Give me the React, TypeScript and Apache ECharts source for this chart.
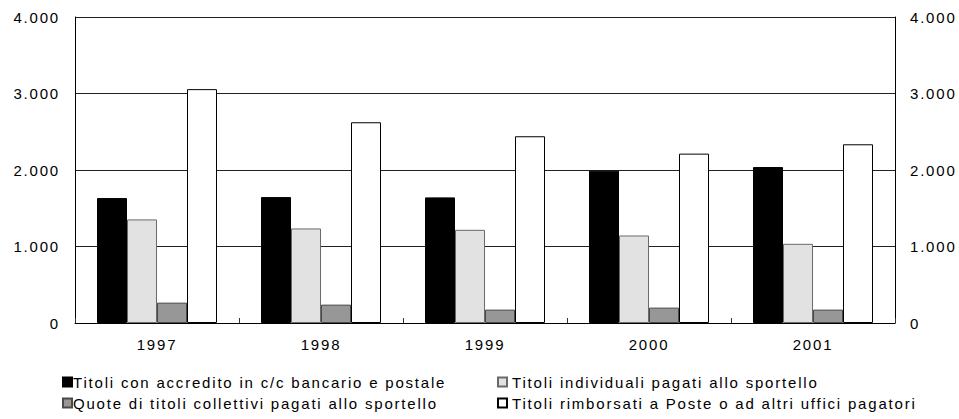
import React, { useEffect, useRef } from "react";
import * as echarts from "echarts";

const years = ["1997", "1998", "1999", "2000", "2001"];
const seriesNames = [
  "Titoli con accredito in c/c bancario e postale",
  "Titoli individuali pagati allo sportello",
  "Quote di titoli collettivi pagati allo sportello",
  "Titoli rimborsati a Poste o ad altri uffici pagatori",
];
const accredito = [1633, 1646, 1642, 1991, 2039];
const individuali = [1354, 1236, 1218, 1144, 1035];
const collettivi = [266, 240, 175, 201, 175];
const rimborsati = [3057, 2624, 2441, 2214, 2336];
const yMin = 0;
const yMax = 4000;
const yInterval = 1000;

const fills = ["#000000", "#e2e2e2", "#979797", "#ffffff"];
const borders = ["#000000", "#6a6a6a", "#4a4a4a", "#000000"];
const FONT = "'Liberation Sans', Arial, sans-serif";

const fmt = (v: number) => String(v).replace(/\B(?=(\d{3})+(?!\d))/g, ".");

export default function App() {
  const ref = useRef<HTMLDivElement>(null);
  useEffect(() => {
    if (!ref.current) return;
    const chart = echarts.init(ref.current, undefined, { renderer: "svg" });
    const values = [accredito, individuali, collettivi, rimborsati];
    const legendPos = [
      { left: 62, top: 374, pad: [0, 0, 0, -4] },
      { left: 497, top: 374, pad: [0, 0, 0, 0] },
      { left: 62, top: 395, pad: [0, 0, 0, -4] },
      { left: 497, top: 395, pad: [0, 0, 0, 0] },
    ];
    const yAxisCommon = {
      type: "value" as const,
      min: yMin,
      max: yMax,
      interval: yInterval,
      axisLine: { show: true, lineStyle: { color: "#000", width: 1 } },
      axisTick: { show: false },
      splitLine: { show: true, lineStyle: { color: "#222", width: 1 } },
      axisLabel: {
        color: "#000",
        fontSize: 15,
        fontFamily: FONT,
        margin: 15,
        formatter: (v: number) => fmt(v),
      },
    };
    chart.setOption({
      animation: false,
      backgroundColor: "#ffffff",
      grid: { left: 75, right: 64, top: 17, bottom: 96, containLabel: false },
      xAxis: {
        type: "category",
        data: years,
        boundaryGap: true,
        axisLine: { show: true, lineStyle: { color: "#000", width: 1 } },
        axisTick: { show: true, inside: true, length: 5, lineStyle: { color: "#333" } },
        axisLabel: { color: "#000", fontSize: 15, fontFamily: FONT, margin: 14 },
      },
      yAxis: [
        { ...yAxisCommon, position: "left" },
        { ...yAxisCommon, position: "right", splitLine: { show: false } },
      ],
      legend: seriesNames.map((name, i) => ({
        data: [name],
        left: legendPos[i].left,
        top: legendPos[i].top,
        orient: "horizontal",
        itemWidth: 9,
        itemHeight: 9,
        icon: "rect",
        padding: 0,
        selectedMode: false,
        textStyle: {
          color: "#000",
          fontSize: 15,
          fontFamily: FONT,
          lineHeight: 16,
          padding: legendPos[i].pad,
        },
      })),
      series: seriesNames.map((name, i) => ({
        name,
        type: "bar",
        data: values[i],
        yAxisIndex: 0,
        barWidth: 30,
        barGap: "0%",
        itemStyle: { color: fills[i], borderColor: borders[i], borderWidth: 1 },
        emphasis: { disabled: true },
      })),
    });
    return () => chart.dispose();
  }, []);
  return (
    <div
      ref={ref}
      style={{
        position: "fixed",
        left: 0,
        top: 0,
        width: 959,
        height: 419,
        background: "#fff",
        letterSpacing: "1.8px",
      }}
    />
  );
}
